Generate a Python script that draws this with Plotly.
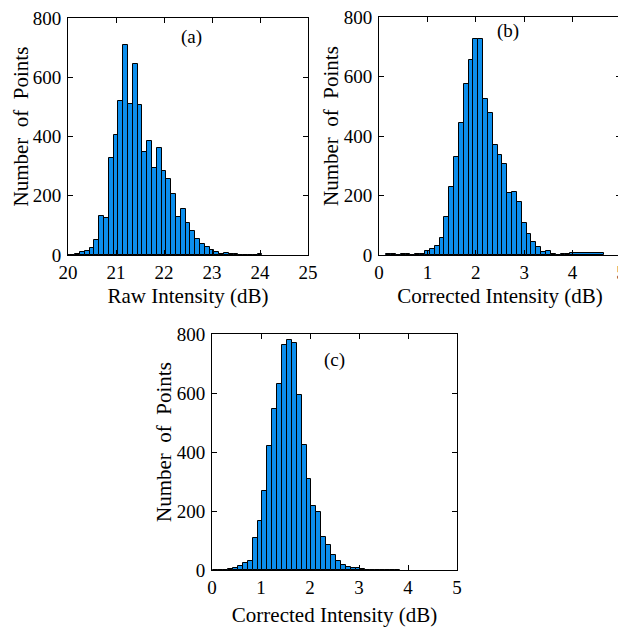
import plotly.graph_objects as go

# ---------------- data ----------------
a_centers = [20.0, 20.1, 20.2, 20.3, 20.4, 20.5, 20.6, 20.7, 20.8, 20.9,
             21.0, 21.1, 21.2, 21.3, 21.4, 21.5, 21.6, 21.7, 21.8, 21.9,
             22.0, 22.1, 22.2, 22.3, 22.4, 22.5, 22.6, 22.7, 22.8, 22.9,
             23.0, 23.1, 23.2, 23.3, 23.4, 23.5, 23.6, 23.7, 23.8, 23.9, 24.0]
a_counts = [1, 1, 2, 9, 12, 24, 51, 132, 125, 326,
            406, 519, 710, 510, 645, 505, 349, 386, 295, 362,
            284, 258, 205, 128, 156, 108, 80, 53, 36, 26,
            16, 11, 3, 6, 2, 2, 0, 0, 0, 0, 3]

b_centers = [0.2, 0.3, 0.4, 0.5, 0.6, 0.7, 0.8, 0.9, 1.0, 1.1,
             1.2, 1.3, 1.4, 1.5, 1.6, 1.7, 1.8, 1.9, 2.0, 2.1,
             2.2, 2.3, 2.4, 2.5, 2.6, 2.7, 2.8, 2.9, 3.0, 3.1,
             3.2, 3.3, 3.4, 3.5, 3.6, 3.7, 3.8, 3.9, 4.3]
b_widths = [0.1] * 38 + [0.7]
b_counts = [2, 2, 0, 5, 2, 0, 4, 4, 13, 19,
            30, 56, 128, 229, 329, 445, 575, 656, 725, 727,
            524, 479, 371, 335, 306, 210, 213, 177, 107, 71,
            43, 26, 10, 13, 3, 1, 5, 5, 8]

c_centers = [0.08, 0.18, 0.28, 0.38, 0.48, 0.58, 0.68, 0.78, 0.88, 0.98,
             1.08, 1.18, 1.28, 1.38, 1.48, 1.58, 1.68, 1.78, 1.88, 1.98,
             2.08, 2.18, 2.28, 2.38, 2.48, 2.58, 2.68, 2.78, 2.88, 2.98,
             3.08, 3.18, 3.28, 3.38, 3.48, 3.58, 3.68, 3.78]
c_counts = [1, 1, 1, 3, 8, 14, 23, 32, 110, 167,
            268, 420, 545, 631, 764, 779, 768, 593, 424, 308,
            217, 196, 112, 85, 51, 29, 16, 9, 6, 6,
            3, 1, 0, 1, 1, 1, 0, 1]

x_titles = ["Raw Intensity (dB)", "Corrected Intensity (dB)", "Corrected Intensity (dB)"]
y_title = "Number\u00a0 of\u00a0 Points"
panel_labels = ["(a)", "(b)", "(c)"]
y_ticks = [0, 200, 400, 600, 800]

# ---------------- figure ----------------
# the page body has an 8px margin, so the figure is drawn 8px smaller and
# all pixel positions below are given in window coordinates
OFF = 8
W, H = 626 - OFF, 627 - OFF
FONT = "Liberation Serif"
BAR = "rgb(12,142,236)"

fig = go.Figure()
fig.add_trace(go.Bar(x=a_centers, y=a_counts, width=0.1, xaxis="x", yaxis="y",
                     marker=dict(color=BAR, line=dict(color="black", width=1))))
fig.add_trace(go.Bar(x=b_centers, y=b_counts, width=b_widths, xaxis="x2", yaxis="y2",
                     marker=dict(color=BAR, line=dict(color="black", width=1))))
fig.add_trace(go.Bar(x=c_centers, y=c_counts, width=0.1, xaxis="x3", yaxis="y3",
                     marker=dict(color=BAR, line=dict(color="black", width=1))))

def px_x(p):
    return (p - OFF) / W

def px_y(p):
    return 1 - (p - OFF) / H

common = dict(showline=True, linecolor="black", linewidth=1, mirror="ticks",
              ticks="inside", ticklen=5, tickcolor="black", tickwidth=1,
              showgrid=False, zeroline=False, automargin=False,
              ticklabeloverflow="allow",
              tickfont=dict(family=FONT, size=19, color="black"))

doms = [
    ((68, 308), (18, 255), [20, 25], 20, 6),
    ((379, 621), (17, 255), [0, 5], 331, 6),
    ((212, 457), (334, 570), [0, 5], 164, 13),
]
layout = {}
for i, ((x0, x1), (y0, y1), xr, ytx, sto) in enumerate(doms):
    s = "" if i == 0 else str(i + 1)
    layout["xaxis" + s] = dict(domain=[px_x(x0), px_x(x1)], anchor="y" + s, range=xr,
                               dtick=1, tick0=xr[0], ticklabelstandoff=0,
                               title=dict(text=x_titles[i], font=dict(family=FONT, size=21, color="black"),
                                          standoff=sto),
                               **common)
    layout["yaxis" + s] = dict(domain=[px_y(y1), px_y(y0)], anchor="x" + s, range=[0, 800],
                               tickvals=y_ticks, ticklabelstandoff=2,
                               **common)
    fig.add_annotation(x=px_x(ytx), y=px_y((y0 + y1) / 2 - 10), xref="paper", yref="paper",
                       text=y_title, textangle=-90, showarrow=False,
                       xanchor="center", yanchor="middle",
                       font=dict(family=FONT, size=21, color="black"))

fig.update_layout(**layout)

ann_pos = [(22.58, 735, "x", "y"), (2.67, 752, "x2", "y2"), (2.5, 712, "x3", "y3")]
for (ax, ay, xr, yr), lab in zip(ann_pos, panel_labels):
    fig.add_annotation(x=ax, y=ay, xref=xr, yref=yr, text=lab, showarrow=False,
                       font=dict(family=FONT, size=19, color="black"))

fig.update_layout(width=W, height=H, margin=dict(l=0, r=0, t=0, b=0),
                  paper_bgcolor="white", plot_bgcolor="white", showlegend=False,
                  bargap=0)

fig.write_html("out.html")
